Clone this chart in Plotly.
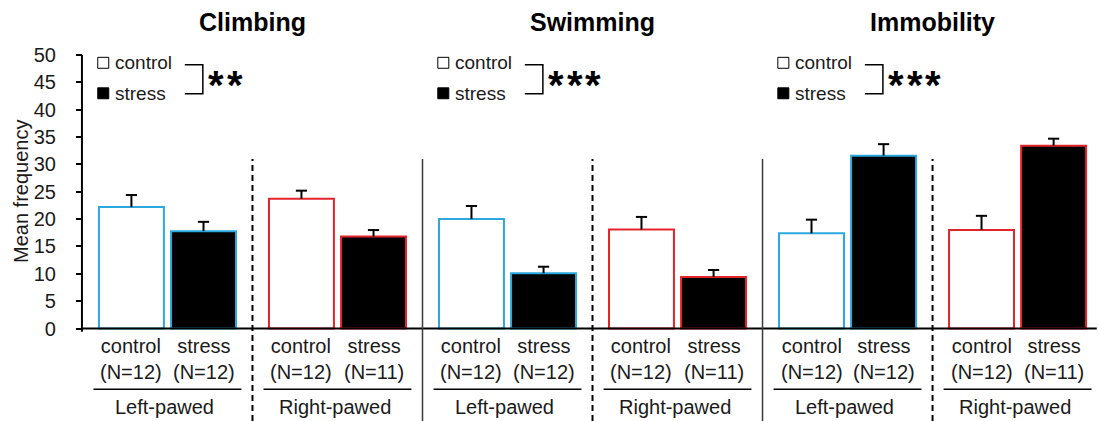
import plotly.graph_objects as go

# ---- data -----------------------------------------------------------------
behaviours = ["Climbing", "Swimming", "Immobility"]
pawedness = ["Left-pawed", "Right-pawed"]
significance = ["**", "***", "***"]

# mean frequency and SEM, per behaviour: [left-pawed, right-pawed]
control_mean = [[22.2, 23.7], [20.0, 18.1], [17.4, 18.0]]
control_sem = [[2.2, 1.5], [2.4, 2.3], [2.5, 2.6]]
stress_mean = [[17.8, 16.8], [10.1, 9.4], [31.6, 33.4]]
stress_sem = [[1.7, 1.2], [1.2, 1.3], [2.1, 1.3]]
control_n = [[12, 12], [12, 12], [12, 12]]
stress_n = [[12, 11], [12, 11], [12, 11]]

y_ticks = [0, 5, 10, 15, 20, 25, 30, 35, 40, 45, 50]

# ---- styling / geometry -----------------------------------------------------
FONT = "Liberation Sans, Arial, sans-serif"
BLUE = "#2AA8DF"
RED = "#E3242B"
paw_colors = [BLUE, RED]

BAR_OFFSET = 0.212       # distance of each bar centre from its pair centre
BAR_WIDTH = 0.382
X_RANGE = [-0.985, 5.479]
Y_RANGE = [-16.9, 60.05]
AXIS_X = -0.503          # where the value axis sits
SEP_TOP = 31.0

fig = go.Figure()

# ---- bars --------------------------------------------------------------------
for k, paw in enumerate(pawedness):
    pos = [2 * b + k for b in range(len(behaviours))]
    for cond, means, sems, fill in (
        ("control", [m[k] for m in control_mean], [s[k] for s in control_sem], "white"),
        ("stress", [m[k] for m in stress_mean], [s[k] for s in stress_sem], "black"),
    ):
        xs = [p - BAR_OFFSET if cond == "control" else p + BAR_OFFSET for p in pos]
        fig.add_trace(go.Bar(
            x=xs, y=means, width=BAR_WIDTH,
            marker=dict(color=fill, line=dict(color=paw_colors[k], width=2)),
            error_y=dict(type="data", symmetric=False, array=sems,
                         arrayminus=[0] * len(sems), width=0,
                         thickness=2, color="black"),
            showlegend=False, hoverinfo="skip",
        ))
        # caps on top of the error bars
        fig.add_trace(go.Scatter(
            x=xs, y=[m + s for m, s in zip(means, sems)], mode="markers",
            marker=dict(symbol="line-ew", size=8,
                        line=dict(color="black", width=2)),
            showlegend=False, hoverinfo="skip",
        ))

shapes = []
annotations = []

# ---- axes lines -----------------------------------------------------------------
shapes.append(dict(type="line", xref="x", yref="y", x0=AXIS_X, x1=AXIS_X,
                   y0=-0.6, y1=50, line=dict(color="black", width=2)))
shapes.append(dict(type="line", xref="x", yref="y", x0=AXIS_X, x1=5.466,
                   y0=0, y1=0, line=dict(color="black", width=2)))

# ---- separators between pairs ------------------------------------------------
n_pairs = len(behaviours) * len(pawedness)
for i in range(n_pairs - 1):
    xsep = i + 0.5
    between_behaviours = (i % 2 == 1)
    shapes.append(dict(
        type="line", xref="x", yref="y", x0=xsep, x1=xsep,
        y0=Y_RANGE[0], y1=SEP_TOP,
        line=dict(color="#3a3a3a" if between_behaviours else "black",
                  width=1.5 if between_behaviours else 2,
                  dash="solid" if between_behaviours else "6px,4px"),
    ))

# ---- category labels under the axis -----------------------------------------
for b in range(len(behaviours)):
    for k, paw in enumerate(pawedness):
        p = 2 * b + k
        annotations.append(dict(
            x=p - BAR_OFFSET, y=-5.6, xref="x", yref="y",
            text=f"control<br>(N={control_n[b][k]})", showarrow=False,
            font=dict(size=20, color="#1a1a1a", family=FONT),
        ))
        annotations.append(dict(
            x=p + BAR_OFFSET, y=-5.6, xref="x", yref="y",
            text=f"stress<br>(N={stress_n[b][k]})", showarrow=False,
            font=dict(size=20, color="#1a1a1a", family=FONT),
        ))
        shapes.append(dict(type="line", xref="x", yref="y",
                           x0=p - 0.435, x1=p + 0.435, y0=-11.1, y1=-11.1,
                           line=dict(color="black", width=1.5)))
        annotations.append(dict(
            x=p - 0.015, y=-14.4, xref="x", yref="y", text=paw,
            showarrow=False, font=dict(size=20, color="#1a1a1a", family=FONT),
        ))

# ---- panel titles, legends and significance brackets --------------------------
for b, name in enumerate(behaviours):
    centre = 2 * b + 0.5
    annotations.append(dict(
        x=centre, y=56.0, xref="x", yref="y", text=f"<b>{name}</b>",
        showarrow=False, font=dict(size=25, color="black", family=FONT),
    ))

    sq_left = 2 * b - 0.41
    sq_w = 0.0647
    for label, fill, yc in (("control", "white", 48.57), ("stress", "black", 43.0)):
        shapes.append(dict(type="rect", xref="x", yref="y",
                           x0=sq_left, x1=sq_left + sq_w,
                           y0=yc - 1.0, y1=yc + 1.0,
                           fillcolor=fill, line=dict(color="black", width=1)))
        annotations.append(dict(
            x=sq_left + 0.088, y=yc, xref="x", yref="y", text=label,
            xanchor="left", showarrow=False,
            font=dict(size=19, color="#1a1a1a", family=FONT),
        ))

    bx0, bx1 = sq_left + 0.512, sq_left + 0.618
    shapes.append(dict(type="path", xref="x", yref="y",
                       path=f"M {bx0},48.2 L {bx1},48.2 L {bx1},42.9 L {bx0},42.9",
                       line=dict(color="black", width=1.5)))
    star_start = sq_left + 0.659
    for i, ch in enumerate(significance[b]):
        annotations.append(dict(
            x=star_start + 0.038 + i * 0.109, y=44.6, xref="x", yref="y",
            text=f"<b>{ch}</b>", showarrow=False,
            font=dict(size=40, color="black", family=FONT),
        ))

# ---- y axis title --------------------------------------------------------------
annotations.append(dict(
    x=-0.86, y=25, xref="x", yref="y", text="Mean frequency", textangle=-90,
    showarrow=False, font=dict(size=20, color="#1a1a1a", family=FONT),
))

fig.update_layout(
    width=1099, height=421,
    margin=dict(l=0, r=0, t=0, b=0),
    paper_bgcolor="white", plot_bgcolor="white",
    barmode="overlay", showlegend=False,
    font=dict(family=FONT, color="#1a1a1a"),
    xaxis=dict(range=X_RANGE, visible=False, fixedrange=True),
    yaxis=dict(range=Y_RANGE, anchor="free",
               position=(AXIS_X - X_RANGE[0]) / (X_RANGE[1] - X_RANGE[0]),
               tickvals=y_ticks, ticks="outside", ticklen=6, tickwidth=1.5,
               tickcolor="black", showline=False, showgrid=False,
               zeroline=False, ticklabelstandoff=16,
               tickfont=dict(size=20, color="#1a1a1a", family=FONT),
               fixedrange=True),
    shapes=shapes, annotations=annotations,
)

fig.write_html("out.html")
